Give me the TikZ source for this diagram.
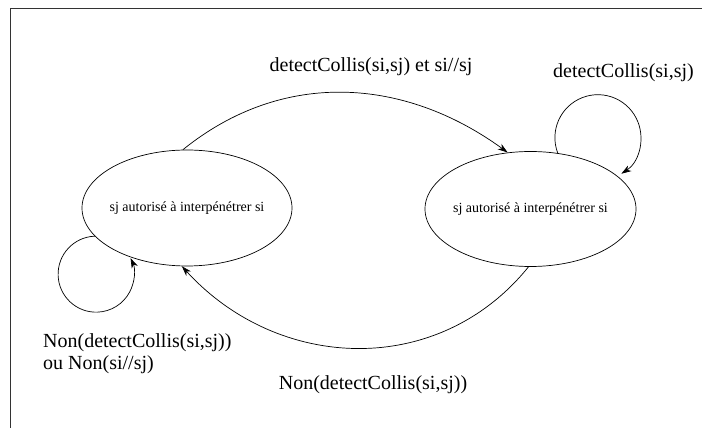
\documentclass[tikz,border=0pt]{standalone}
\usepackage{fontspec}
\setmainfont{Liberation Serif}
\usetikzlibrary{shapes.geometric,arrows.meta}
\begin{document}
\begin{tikzpicture}[x=1pt,y=1pt,
  state/.style={draw,ellipse,inner sep=0pt,line width=0.7pt,font=\fontsize{14}{16}\selectfont},
  lbl/.style={font=\fontsize{20}{22}\selectfont,inner sep=0pt},
  arr/.style={line width=0.7pt,-{Stealth[length=10pt,width=6.5pt,inset=3pt]}},
  frame/.style={line width=0.8pt,draw=black!80}]
\useasboundingbox (0,0) rectangle (702,428);
\draw[frame] (702,420) -- (10,420) -- (10,0);
\node[state,minimum width=210pt,minimum height=116pt] (L) at (187,220) {\makebox[0pt]{sj autorisé à interpénétrer si}};
\node[state,minimum width=211pt,minimum height=115pt] (R) at (530.5,219) {\makebox[0pt]{sj autorisé à interpénétrer si}};
% transitions
\draw[arr] (L.94) .. controls +(99.5,80.5) and +(-103.6,75.3) .. (R.112);
\draw[arr] (R.268) .. controls +(-89.8,-111.3) and +(96.4,-105.7) .. (L.265);
\draw[arr] (L.197) arc[start angle=92,end angle=385,radius=38pt];
\draw[arr] (R.64) arc[start angle=201,end angle=-57,radius=43pt];
% labels
\node[lbl] (t1) at (371,361) {detectCollis(si,sj) et si//sj};
\node[lbl,anchor=west] (t2) at (553,355) {detectCollis(si,sj)};
\node[lbl,anchor=west,align=left] (t3) at (43,74) {Non(detectCollis(si,sj))\\ou Non(si//sj)};
\node[lbl] (t4) at (373,43) {Non(detectCollis(si,sj))};
\end{tikzpicture}
\end{document}
